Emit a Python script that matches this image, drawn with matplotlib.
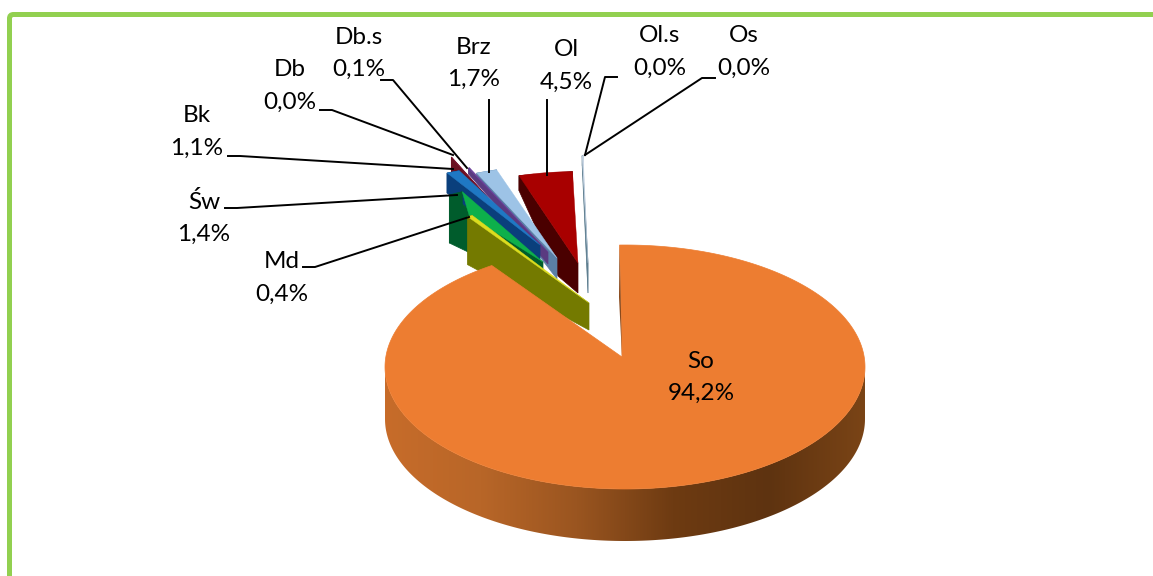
import numpy as np
import matplotlib
matplotlib.use('Agg')
import matplotlib.pyplot as plt
from matplotlib.patches import Polygon, FancyBboxPatch

plt.rcParams['font.family'] = ['Lato', 'DejaVu Sans']

# shares as printed on the labels (the small ones are not quite zero)
names = ['So', 'Md', 'Św', 'Bk', 'Db', 'Db.s', 'Brz', 'Ol', 'Ol.s', 'Os']
values = [94.2, 0.4, 1.4, 1.1, 0.04, 0.1, 1.7, 4.5, 0.04, 0.04]

# look of each slice
face_cols = ['#ED7D31', '#DCDC1E', '#0DB04B', '#1F78C4', '#7A1030', '#6A3D9A', '#9DC3E6', '#A80000', '#C9D6E6', '#DDE6F0']
wall_cols = ['#8A4A1C', '#747A00', '#005C2C', '#0A3F7C', '#6A1020', '#5A3A80', '#5B7FA6', '#4A0000', '#5F7F8F', '#8FA8BF']
# how far each slice is pulled out of the pie, px
pull_x = [0, -33, -79, -82, -87, -74, -65, -44, -34, -34]
pull_y = [0, -54, -95, -112, -107, -105, -99, -94, -94, -94]
radius_x = [1.0, .91, .73, .84, .87, .83, .85, .83, .88, .88]
radius_y = [1.0, .85, .65, .665, .83, .75, .757, .75, .88, .88]
drop_rim = [52, 48, 48, 20, 16, 6, 2, 15, 10, 10]
drop_tip = [0, 27, 26, 17, 10, 12, 21, 30, 30, 30]
# the wall of Ol bends out under its neighbours
knee = [0, 0, 0, 0, 0, 0, 0, 20, 0, 0]
# the left corner of a face sits off its rim on some slices
tip_dx = [0, 0, 20, 0, 0, 0, 0, 0, 0, 0]
tip_dy = [0, 0, 21, 0, 0, 0, 0, 0, 0, 0]

# labels: text centre of the name line and the end of the leader line
label_x = [701, 282, 204, 197, 290, 359, 474, 566, 660, 744]
label_y = [361, 262, 202, 116, 70, 37, 47, 50, 36, 36]
leader_x = [None, (303, 315, 469), (225, 237, 457), (228, 240, 453), (320, 332, 453), (381, 393, 467),
            (489, 489), (547, 547), (617, 605, 585), (715, 702, 585)]
leader_y = [None, (267, 267, 217), (208, 208, 195), (156, 156, 169), (110, 110, 155), (80, 80, 168),
            (100, 172), (100, 175), (77, 77, 155), (78, 78, 155)]

W, H = 1153, 576
cx, cy = 625, 367
rx, ry = 240, 122
apex_x, apex_y = 622, 357
start = -1.3

fig = plt.figure(figsize=(W / 100, H / 100), dpi=100)
ax = fig.add_axes([0, 0, 1, 1])
ax.set_xlim(0, W)
ax.set_ylim(H, 0)
ax.axis('off')

ax.add_patch(FancyBboxPatch((9.5, 14.5), W + 30, H + 30, boxstyle='round,pad=0,rounding_size=4',
                            fc='white', ec='#92D050', lw=3.6))

# clockwise from the top, the pie is turned so So ends where the others start
total = sum(values)
spans = [v / total * 360 for v in values]
ends = start + np.cumsum(spans)
begins = ends - spans


def rim(t, i, ox, oy):
    t = np.radians(t)
    return ox + radius_x[i] * rx * np.sin(t), oy - radius_y[i] * ry * np.cos(t)


# slices behind first, So last
for i in [9, 8, 7, 6, 5, 4, 3, 2, 1]:
    px, py = apex_x + pull_x[i], apex_y + pull_y[i]
    t = np.linspace(begins[i], ends[i], 12)
    x, y = rim(t, i, px, py)
    # side cut of the slice, seen from the left
    ax.add_patch(Polygon([(px, py), (x[0], y[0]), (x[0], y[0] + drop_rim[i]),
                          (px - knee[i], py + drop_tip[i] - 0.85 * knee[i]), (px, py + drop_tip[i])],
                         fc=wall_cols[i], ec=wall_cols[i], lw=0.5))
    ax.add_patch(Polygon([(x[0], y[0]), (x[-1], y[-1]), (x[-1], y[-1] + drop_rim[i]), (x[0], y[0] + drop_rim[i])],
                         fc=wall_cols[i], ec=wall_cols[i], lw=0.5))
    fade = np.linspace(1, 0, 12)
    fx, fy = x + tip_dx[i] * fade, y + tip_dy[i] * fade
    ax.add_patch(Polygon(np.r_[[[px, py]], np.c_[fx, fy]], fc=face_cols[i], ec=face_cols[i], lw=0.3))

# So: outer wall with the shading, then the top
t = np.linspace(90, 270, 200)
x, y = rim(t, 0, cx, cy)
wall = Polygon(np.r_[np.c_[x, y], np.c_[x, y + drop_rim[0]][::-1]], fc='none', ec='none')
ax.add_patch(wall)
shade = np.array([[0xC7, 0x6C, 0x2A], [0xB8, 0x66, 0x28], [0x9A, 0x55, 0x20], [0x6E, 0x3B, 0x12], [0x5E, 0x33, 0x10], [0x7A, 0x44, 0x16]]) / 255
grad = np.array([np.interp(np.linspace(0, 1, 300), np.linspace(0, 1, 6), shade[:, k]) for k in range(3)]).T[None, :, :]
im = ax.imshow(grad, extent=[cx - rx, cx + rx, cy + ry + 60, cy - 10], aspect='auto', zorder=1)
im.set_clip_path(wall)
ax.set_xlim(0, W)
ax.set_ylim(H, 0)

t = np.linspace(begins[0], ends[0], 400)
x, y = rim(t, 0, cx, cy)
ax.add_patch(Polygon(np.r_[[[apex_x, apex_y]], np.c_[x, y]], fc=face_cols[0], ec=face_cols[0], lw=0.5, zorder=2))
ax.add_patch(Polygon([(x[0], y[0]), (apex_x, apex_y), (apex_x - 3, apex_y - 60)], fc='#8A4A1C', ec='none', zorder=2))

# labels and leader lines
for i, n in enumerate(names):
    pct = f'{values[i]:.1f}'.replace('.', ',') + '%'
    ax.text(label_x[i], label_y[i], n, ha='center', va='center', fontsize=17.5, color='black', zorder=5)
    ax.text(label_x[i], label_y[i] + 32.5, pct, ha='center', va='center', fontsize=17.5, color='black', zorder=5)
    if leader_x[i] is not None:
        ax.plot(leader_x[i], leader_y[i], color='black', lw=1.4, zorder=4)

fig.savefig('out.png', dpi=100)
